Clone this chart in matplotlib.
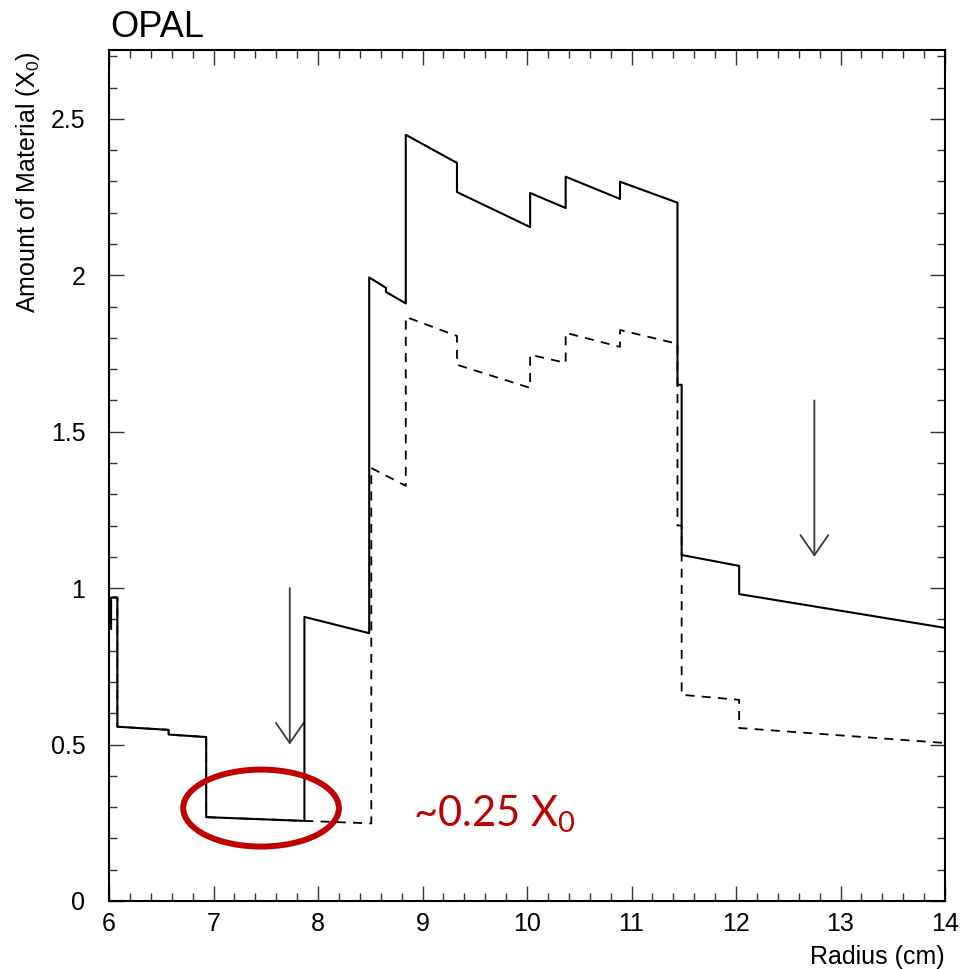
import matplotlib
matplotlib.use("Agg")
import matplotlib.pyplot as plt
from matplotlib.patches import Ellipse, FancyArrowPatch
from matplotlib.ticker import MultipleLocator, FormatStrFormatter

# Radiation length profile vs. radius (solid: total, dashed: without the inner layer)
solid_r = [6.02, 6.02, 6.08, 6.08, 6.57, 6.57, 6.93, 6.93, 7.87, 7.87, 8.49, 8.49,
           8.65, 8.65, 8.84, 8.84, 9.33, 9.33, 10.03, 10.03, 10.37, 10.37, 10.89, 10.89,
           11.44, 11.44, 11.48, 11.48, 12.03, 12.03, 14.00]
solid_x0 = [0.87, 0.97, 0.97, 0.557, 0.547, 0.532, 0.524, 0.268, 0.256, 0.908, 0.856, 1.993,
            1.960, 1.947, 1.910, 2.449, 2.359, 2.266, 2.154, 2.263, 2.215, 2.315, 2.244, 2.299,
            2.232, 1.650, 1.650, 1.106, 1.071, 0.981, 0.873]

dashed_r = [6.02, 6.02, 6.08, 6.08, 6.57, 6.57, 6.93, 6.93, 8.51, 8.51, 8.84, 8.84,
            9.33, 9.33, 10.03, 10.03, 10.37, 10.37, 10.89, 10.89, 11.44, 11.44, 11.48, 11.48,
            12.03, 12.03, 14.00]
dashed_x0 = [0.87, 0.97, 0.97, 0.557, 0.547, 0.532, 0.524, 0.268, 0.248, 1.384, 1.327, 1.867,
             1.806, 1.714, 1.640, 1.746, 1.720, 1.816, 1.771, 1.825, 1.781, 1.200, 1.200, 0.659,
             0.643, 0.553, 0.505]

# Vertical arrows marking layer positions: (radius, start, end)
arrows = [(7.73, 1.00, 0.50), (12.75, 1.60, 1.10)]

x_ticks = [6, 7, 8, 9, 10, 11, 12, 13, 14]
y_ticks = [0, 0.5, 1, 1.5, 2, 2.5]

W, H = 964, 969
fig = plt.figure(figsize=(W / 100, H / 100), dpi=100)
ax = fig.add_axes([109 / W, 1 - 901 / H, 836 / W, 851 / H])

ax.plot(dashed_r, dashed_x0, color="black", lw=1.3, ls=(0, (5, 4)))
ax.plot(solid_r, solid_x0, color="black", lw=1.5)

for r, y0, y1 in arrows:
    arr = FancyArrowPatch((r, y0), (r, y1), arrowstyle="->,head_length=1.45,head_width=1.0",
                          mutation_scale=10, color="#3a3a3a", lw=1.3,
                          shrinkA=0, shrinkB=0)
    ax.add_patch(arr)

ax.add_patch(Ellipse((7.455, 0.297), 1.49, 0.246, fill=False,
                     edgecolor="#C00000", lw=4.3, zorder=5))
ax.text(8.91, 0.24, r"~0.25 X$_\mathregular{0}$", color="#C00000", fontsize=30,
        family="Lato", va="baseline", ha="left")

ax.set_xlim(6, 14)
ax.set_ylim(0, 2.72)
ax.set_xticks(x_ticks)
ax.set_yticks(y_ticks)
ax.xaxis.set_minor_locator(MultipleLocator(0.2))
ax.yaxis.set_minor_locator(MultipleLocator(0.1))
ax.yaxis.set_major_formatter(FormatStrFormatter("%g"))
ax.tick_params(which="both", direction="in", top=True, right=True,
               color="#333333", width=1.0)
ax.tick_params(which="major", length=11)
ax.tick_params(which="minor", length=5.5)
ax.tick_params(axis="x", pad=8)
ax.tick_params(axis="y", pad=17)
for lab in ax.get_xticklabels() + ax.get_yticklabels():
    lab.set_family("Liberation Sans")
    lab.set_fontsize(18)
for s in ax.spines.values():
    s.set_linewidth(1.5)

fig.text(110 / W, 1 - 37 / H, "OPAL", family="Liberation Sans", fontsize=26,
         ha="left", va="baseline")
fig.text(28 / W, 1 - 52 / H, r"Amount of Material (X$_\mathregular{0}$)",
         family="Liberation Sans", fontsize=18, rotation=90, ha="center", va="top")
fig.text(945 / W, 1 - 957 / H, "Radius (cm)", family="Liberation Sans", fontsize=18,
         ha="right", va="center")

fig.savefig("out.png", dpi=100)
